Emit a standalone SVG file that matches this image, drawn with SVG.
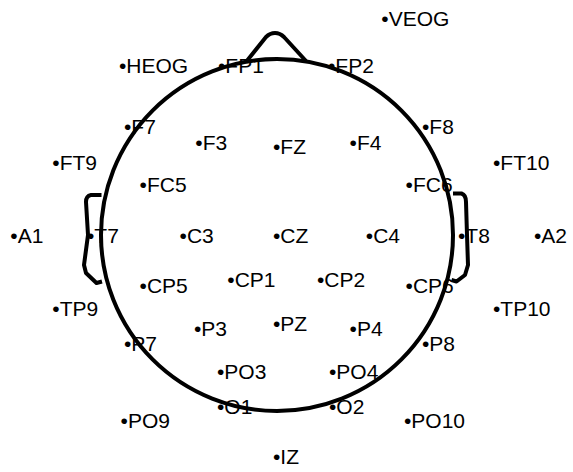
<svg xmlns="http://www.w3.org/2000/svg" width="573" height="472" viewBox="0 0 573 472">
<style>
.lbl{font-family:"Liberation Sans",Arial,sans-serif;font-size:21px;fill:#000}
.head{fill:none;stroke:#000;stroke-width:4;stroke-linejoin:round}
</style>
<rect width="573" height="472" fill="#fff"/>
<g id="head">
<path class="head" d="M246,62 L266,37 Q270,33 275,33 Q280,33 284,37 L306,61"/>
<path class="head" d="M101.5,195 L91,195 Q86,196 86,202 L88,235 L84,265 L86,273 L96.5,283 L102,281.5"/>
<path class="head" d="M453,193.5 L461.5,193.5 Q466,195 466,202 L467,235 L468,265 L465,275 L456.5,281.5 L451.5,280"/>
<circle class="head" cx="277" cy="235" r="176"/>
</g>
<g id="connectors"></g>
<g id="VEOG"><text class="lbl" x="381.3" y="26">•VEOG</text></g>
<g id="HEOG"><text class="lbl" x="119" y="72.5">•HEOG</text></g>
<g id="FP1"><text class="lbl" x="218" y="72.5">•FP1</text></g>
<g id="FP2"><text class="lbl" x="328" y="72.5">•FP2</text></g>
<g id="F7"><text class="lbl" x="124" y="133.5">•F7</text></g>
<g id="F8"><text class="lbl" x="422" y="133.5">•F8</text></g>
<g id="F3"><text class="lbl" x="195.3" y="150">•F3</text></g>
<g id="FZ"><text class="lbl" x="273" y="154">•FZ</text></g>
<g id="F4"><text class="lbl" x="349.6" y="150">•F4</text></g>
<g id="FT9"><text class="lbl" x="52.3" y="170">•FT9</text></g>
<g id="FT10"><text class="lbl" x="493" y="170">•FT10</text></g>
<g id="FC5"><text class="lbl" x="139.6" y="192">•FC5</text></g>
<g id="FC6"><text class="lbl" x="405.6" y="192">•FC6</text></g>
<g id="A1"><text class="lbl" x="10.3" y="242.5">•A1</text></g>
<g id="T7"><text class="lbl" x="87" y="242.5">•T7</text></g>
<g id="C3"><text class="lbl" x="179.6" y="242.5">•C3</text></g>
<g id="CZ"><text class="lbl" x="273" y="242.5">•CZ</text></g>
<g id="C4"><text class="lbl" x="365.8" y="242.5">•C4</text></g>
<g id="T8"><text class="lbl" x="458" y="242.5">•T8</text></g>
<g id="A2"><text class="lbl" x="534" y="242.5">•A2</text></g>
<g id="CP5"><text class="lbl" x="139.6" y="292.5">•CP5</text></g>
<g id="CP1"><text class="lbl" x="227.3" y="287">•CP1</text></g>
<g id="CP2"><text class="lbl" x="317" y="287">•CP2</text></g>
<g id="CP6"><text class="lbl" x="405.6" y="292.5">•CP6</text></g>
<g id="TP9"><text class="lbl" x="52.3" y="316">•TP9</text></g>
<g id="TP10"><text class="lbl" x="493" y="316">•TP10</text></g>
<g id="P3"><text class="lbl" x="194" y="336">•P3</text></g>
<g id="PZ"><text class="lbl" x="273" y="331">•PZ</text></g>
<g id="P4"><text class="lbl" x="349.6" y="336">•P4</text></g>
<g id="P7"><text class="lbl" x="124" y="351">•P7</text></g>
<g id="P8"><text class="lbl" x="422" y="351">•P8</text></g>
<g id="PO3"><text class="lbl" x="217" y="379">•PO3</text></g>
<g id="PO4"><text class="lbl" x="329" y="379">•PO4</text></g>
<g id="O1"><text class="lbl" x="217" y="414">•O1</text></g>
<g id="O2"><text class="lbl" x="329" y="414">•O2</text></g>
<g id="PO9"><text class="lbl" x="120.6" y="428">•PO9</text></g>
<g id="PO10"><text class="lbl" x="404" y="428">•PO10</text></g>
<g id="IZ"><text class="lbl" x="273" y="464">•IZ</text></g>
</svg>
